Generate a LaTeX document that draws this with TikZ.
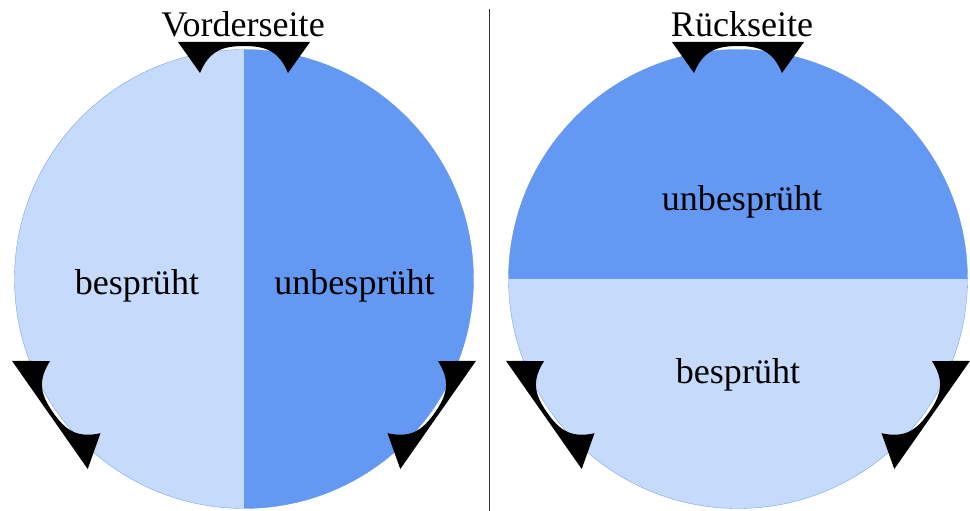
\documentclass[tikz,border=0pt]{standalone}
\usepackage{fontspec}
\setmainfont{Liberation Serif}
\definecolor{sprayed}{HTML}{C6DBFC}
\definecolor{dry}{HTML}{6398F3}
\definecolor{rim}{HTML}{6F9EEA}
\tikzset{
  clamp/.pic={
    \fill (-1.32,4.74) -- (1.32,4.74) -- (0.88,4.12)
      .. controls (0.7,4.55) and (0.45,4.66) .. (0,4.66)
      .. controls (-0.45,4.66) and (-0.7,4.55) .. (-0.88,4.12) -- cycle;
  },
  lbl/.style={anchor=base, font=\fontsize{20.5}{24}\selectfont}
}

\begin{document}
\begin{tikzpicture}
  \useasboundingbox (0,0) rectangle (19.4,10.22);
  \coordinate (front) at (4.88,4.64);
  \coordinate (back) at (14.76,4.64);
  % front disc: left half sprayed
  \fill[sprayed] (front) circle (4.59);
  \fill[dry] (front) ++(0,4.59) arc (90:-90:4.59) -- cycle;
  \draw[rim, very thin] (front) circle (4.59);
  % back disc: lower half sprayed
  \fill[sprayed] (back) circle (4.59);
  \fill[dry] (back) ++(-4.59,0) arc (180:0:4.59) -- cycle;
  \draw[rim, very thin] (back) circle (4.59);
  % holders
  \foreach \a in {90,215,325} {
    \pic[rotate=\a-90] at (front) {clamp};
    \pic[rotate=\a-90] at (back) {clamp};
  }
  % separator
  \coordinate (sep top) at (9.79,10.04);
  \coordinate (sep bot) at (9.79,0);
  \draw[black!80, line width=1.1pt] (sep top) -- (sep bot);
  \node[lbl] (front title) at (4.86,9.48) {Vorderseite};
  \node[lbl] (back title) at (14.84,9.48) {Rückseite};
  \node[lbl] (front wet) at (2.74,4.32) {besprüht};
  \node[lbl] (front dry) at (7.09,4.32) {unbesprüht};
  \node[lbl] (back dry) at (14.84,6.0) {unbesprüht};
  \node[lbl] (back wet) at (14.76,2.54) {besprüht};
\end{tikzpicture}
\end{document}
